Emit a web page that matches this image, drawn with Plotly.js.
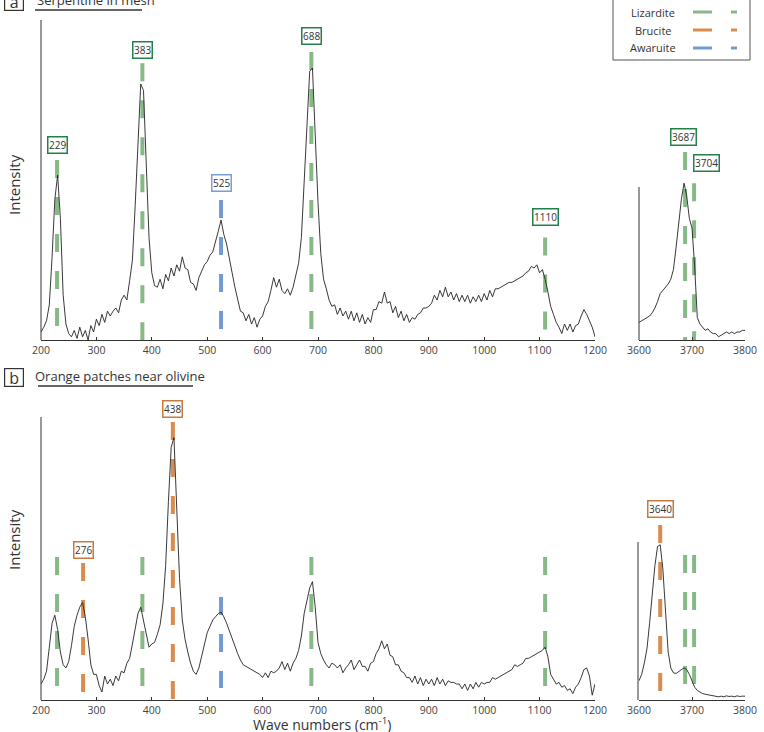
<!DOCTYPE html>
<html>
<head>
<meta charset="utf-8">
<script src="https://cdn.plot.ly/plotly-3.0.1.min.js"></script>
<style>
  html, body { margin: 0; padding: 0; background: #fff; }
  #chart { width: 764px; height: 732px; }
</style>
</head>
<body>
<div id="chart"></div>
<script>
// ---- Raman spectra: lattice region (200-1200 cm-1) ----
const waveMain = [
  200,205,210,215,220,225,230,235,240,245,250,255,260,265,270,275,280,285,290,295,
  300,305,310,315,320,325,330,335,340,345,350,355,360,365,370,375,380,385,390,395,
  400,405,410,415,420,425,430,435,440,445,450,455,460,465,470,475,480,485,490,495,
  500,505,510,515,520,525,530,535,540,545,550,555,560,565,570,575,580,585,590,595,
  600,605,610,615,620,625,630,635,640,645,650,655,660,665,670,675,680,685,690,695,
  700,705,710,715,720,725,730,735,740,745,750,755,760,765,770,775,780,785,790,795,
  800,805,810,815,820,825,830,835,840,845,850,855,860,865,870,875,880,885,890,895,
  900,905,910,915,920,925,930,935,940,945,950,955,960,965,970,975,980,985,990,995,
  1000,1005,1010,1015,1020,1025,1030,1035,1040,1045,1050,1055,1060,1065,1070,1075,1080,1085,1090,1095,
  1100,1105,1110,1115,1120,1125,1130,1135,1140,1145,1150,1155,1160,1165,1170,1175,1180,1185,1190,1195,
  1200
];

// (a) serpentine in mesh
const serpentineMesh = [
  2.5,4,6,11,26,44,51.5,38,14,5, 2,1,3,0.5,4,1,3,0,4.5,2.5,
  6.5,4.5,8,5.5,9,7.5,9,10,8.5,12.5, 14,12.5,18.5,25,42,63,80,78,53,32,
  21,17,16.5,19,16,20.5,18.5,22.5,20,23.5, 21.5,26,22.5,22,18,17.5,15.5,19.5,21.5,23.5,
  24.5,26.5,27.5,30.5,34,37.5,33,30,25,21, 16.5,13,9,8.5,6,8,5,7,4,6.5,
  7.5,10.5,12,15.5,19.5,16.5,19,15.5,14.5,16, 14,16.5,20,24,32,48,68,84,85,62,
  43,27,19,16,12.5,10.5,11,8,10,7.5, 9,6.5,9,6,8.5,5.5,8,5,7,5.5,
  9.5,9.5,12,11.5,15,11.5,12,8.5,10.5,7, 9,6,8,5.5,7,6.5,8,8.5,10,10,
  10.5,11.5,14,12.5,15.5,13.5,16.5,13.5,15,12.5, 14.5,12,14,12,14,11.5,13.5,12,14,12,
  14.5,12.5,15.5,13.5,16,16,16.5,17,17.5,18, 18,18.5,19,19.5,20,21,21.5,23,22.5,23.5,
  21,22,19,15,10.5,8,5.5,4,2,5, 3,5,2.5,4.5,5,7.5,9.5,8,6,4,
  1
];

// (b) orange patches near olivine
const orangePatches = [
  5,6.5,9,16,24,26.5,22,15,11,10, 12,17,23,26.5,29,30.5,26,19,11,8,
  8,4.5,2.5,7.5,5,6.5,4.5,7.5,6,9, 8.5,11.5,13,17.5,23,27,29,25,20,16.5,
  17.5,18,20.5,23.5,30,42,62,79,82,62, 38,25,19,15,11.5,9,8,10,13.5,17,
  21,23,25,26,27,27.5,26,24,21.5,19, 16.5,14.5,12.5,11,10.5,10,9.5,9,8.5,8,
  7,8.5,7,9,8.5,9,10,12,9.5,11.5, 9,11.5,13,15.5,20,27,31,35,37,29,
  18,14.5,12.5,11,10,11.5,11,10,11,8.5, 10,11,12.5,9.5,11,12.5,10.5,10.5,9,11.5,
  12,14.5,16,18.5,16,17.5,14,13.5,11,11, 9,8.5,7,7,5.5,7.5,5,7,4.5,6.5,
  5,6.5,4.5,7,5,6.5,4.5,6,5.5,5.5, 5,5,3.5,5,3,5,3.5,5.5,4,5.5,
  5,5.5,5.5,7,6.5,7,7.5,8,8.5,9, 9.5,11,10.5,11,11.5,13,13,13.5,14,14.5,
  15,15.5,16.5,13.5,8,6.5,5,5.5,4,4.5, 3,3.5,2,4,5,7,9.5,10,7.5,1.5,
  5
];

// ---- OH-stretching region (3600-3800 cm-1) ----
const waveOH = [
  3600,3605,3610,3615,3620,3625,3630,3635,3640,3645,
  3650,3655,3660,3665,3670,3675,3680,3685,3690,3695,
  3700,3705,3710,3715,3720,3725,3730,3735,3740,3745,
  3750,3755,3760,3765,3770,3775,3780,3785,3790,3795,
  3800
];
const serpentineMeshOH = [
  5.5,6,6.5,7,7.5,8.5,10,12,14.5,15.5,
  16.5,17.5,19,22,29,36,44,49,45,38,
  35,23,7,5,4,3,3.5,2.5,2,2,
  1,1.5,2,2.5,2,2.5,2,2.5,2.5,3,
  3
];
const orangePatchesOH = [
  6,8,11.5,16,24,33,42,48,48.5,41,
  26,15,10,8.5,8.3,9,9.5,10,9.5,8,
  6,4,3,2.5,2,1.8,1.6,1.5,1.3,1.2,
  1,1.2,1,1.3,1.1,1.2,1,1.3,1.1,1.2,
  1.2
];

// ---- reference band positions (cm-1) ----
const lizarditeBands = [229, 383, 688, 1110, 3687, 3704];
const bruciteBands = [276, 438, 3640];
const awaruiteBands = [525];

const mineralNames = ['Lizardite', 'Brucite', 'Awaruite'];
const panelLetters = ['a', 'b'];
const panelTitles = ['Serpentine in mesh', 'Orange patches near olivine'];
const ticksMain = [200, 300, 400, 500, 600, 700, 800, 900, 1000, 1100, 1200];
const ticksOH = [3600, 3700, 3800];
const labelledBands = [[229, 383, 525, 688, 1110, 3687, 3704], [276, 438, 3640]];

// ---- styling ----
const W = 764, H = 732;
const px = v => v / W;
const py = v => 1 - v / H;
const FONT = 'Open Sans, sans-serif';
const INK = '#333333';
const mineralStyle = {
  Lizardite: { dash: '#86b986', box: '#24804a', bands: lizarditeBands },
  Brucite:   { dash: '#d98c4e', box: '#c97a3c', bands: bruciteBands },
  Awaruite:  { dash: '#739ad2', box: '#7b9dd6', bands: awaruiteBands }
};

// vertical extent of each band marker [top, bottom, label height], per panel
const markerLayout = [
  { 229: [56.25, 4, 61], 383: [86.5, 0, 90.6], 525: [43.75, 3, 49], 688: [90, 2, 95],
    1110: [32, 3, 38.4], 3687: [58.75, 0, 63.4], 3704: [49, 0, 55.3],
    276: null, 438: null, 3640: null },
  { 229: [44.7, 4], 383: [44.7, 4], 688: [44.7, 4], 1110: [44.7, 4],
    3687: [45.3, 4], 3704: [45.3, 4],
    276: [42.8, 2.2, 46.9], 438: [86.9, 0, 91], 3640: [54.7, 2.5, 59.7],
    525: [32.2, 3.75] }
];
const labelShift = { 3704: 12, 3687: -2 };

const axisNames = [['x', 'y', 'x2', 'y2'], ['x3', 'y3', 'x4', 'y4']];
const spectra = [[serpentineMesh, serpentineMeshOH], [orangePatches, orangePatchesOH]];

const traces = [];
const annotations = [];
const shapes = [];

function note(o) {
  return Object.assign({ showarrow: false, xanchor: 'center', yanchor: 'middle', xref: 'paper', yref: 'paper' }, o);
}

panelLetters.forEach((letter, p) => {
  const [xm, ym, xi, yi] = axisNames[p];
  // band markers
  mineralNames.forEach(name => {
    const st = mineralStyle[name];
    st.bands.forEach(b => {
      const ext = markerLayout[p][b];
      if (!ext) return;
      const inset = b > 2000;
      traces.push({
        x: [b, b], y: [ext[0], ext[1]],
        xaxis: inset ? xi : xm, yaxis: inset ? yi : ym,
        mode: 'lines', hoverinfo: 'skip', showlegend: false,
        line: { color: st.dash, width: 4, dash: '18px,19px' }
      });
      if (labelledBands[p].includes(b)) {
        annotations.push(note({
          x: b, y: ext[2], xref: inset ? xi : xm, yref: inset ? yi : ym,
          xshift: labelShift[b] || 0,
          text: String(b),
          font: { family: FONT, size: 10, color: INK },
          bgcolor: '#ffffff', bordercolor: st.box, borderwidth: 1.5, borderpad: 0.5
        }));
      }
    });
  });
  // spectra
  traces.push({
    x: waveMain, y: spectra[p][0], xaxis: xm, yaxis: ym,
    mode: 'lines', line: { color: '#222222', width: 0.9 }, hoverinfo: 'skip', showlegend: false
  });
  traces.push({
    x: waveOH, y: spectra[p][1], xaxis: xi, yaxis: yi,
    mode: 'lines', line: { color: '#222222', width: 0.9 }, hoverinfo: 'skip', showlegend: false
  });
});

// panel frames: vertical axis lines
[[41, 20, 340], [639, 187, 340], [41, 417, 700], [638, 542, 700]].forEach(([x, y0, y1]) => {
  shapes.push({ type: 'line', xref: 'paper', yref: 'paper', x0: px(x), x1: px(x), y0: py(y0), y1: py(y1),
    line: { color: INK, width: 1 } });
});

// panel letters, titles and underlines
const panelHead = [
  { box: [13.5, 1.5], title: [35, 0], line: [35, 142, 10] },
  { box: [13.5, 377.5], title: [33, 376], line: [38, 193, 386] }
];
panelHead.forEach((h, p) => {
  annotations.push(note({
    x: px(h.box[0]), y: py(h.box[1]),
    text: panelLetters[p], font: { family: FONT, size: 16, color: INK },
    width: 16, height: 15, borderpad: 1, bordercolor: INK, borderwidth: 1.2, bgcolor: '#fff'
  }));
  annotations.push(note({
    x: px(h.title[0]), y: py(h.title[1]), xanchor: 'left',
    text: panelTitles[p], font: { family: FONT, size: 13, color: INK }
  }));
  shapes.push({ type: 'line', xref: 'paper', yref: 'paper',
    x0: px(h.line[0]), x1: px(h.line[1]), y0: py(h.line[2]), y1: py(h.line[2]),
    line: { color: INK, width: 1.5 } });
});

// axis titles
[185, 540].forEach(yc => {
  annotations.push(note({
    x: px(14), y: py(yc), textangle: -90,
    text: 'Intensity', font: { family: FONT, size: 15, color: INK }
  }));
});
annotations.push(note({
  x: px(322), y: py(723.5),
  text: 'Wave numbers (cm<sup>-1</sup>)', font: { family: FONT, size: 14, color: INK }
}));

// mineral key
shapes.push({ type: 'rect', xref: 'paper', yref: 'paper', x0: px(613), x1: px(750), y0: py(-3), y1: py(60),
  line: { color: '#555555', width: 1 }, fillcolor: 'rgba(0,0,0,0)' });
mineralNames.forEach((name, i) => {
  const yc = 12 + i * 18;
  annotations.push(note({
    x: px(653), y: py(yc),
    text: name, font: { family: FONT, size: 11, color: INK }
  }));
  [[693, 712], [731, 737]].forEach(([a, b]) => {
    shapes.push({ type: 'line', xref: 'paper', yref: 'paper', x0: px(a), x1: px(b), y0: py(yc), y1: py(yc),
      line: { color: mineralStyle[name].dash, width: 3 } });
  });
});

// axes
const xBase = {
  showline: true, linecolor: INK, linewidth: 1, ticks: 'inside', ticklen: 3, tickwidth: 1, tickcolor: INK,
  showgrid: false, zeroline: false, fixedrange: true,
  tickfont: { family: FONT, size: 10.5, color: '#444444' }
};
const yBase = { visible: false, showgrid: false, zeroline: false, fixedrange: true };
const domMain = [px(41), px(595)];
const domInset = [px(639), px(745)];
const domA = [py(340), py(20)];
const domB = [py(700), py(400)];

const layout = {
  width: W, height: H,
  margin: { l: 0, r: 0, t: 0, b: 0 },
  paper_bgcolor: '#ffffff', plot_bgcolor: 'rgba(0,0,0,0)',
  showlegend: false,
  xaxis:  Object.assign({}, xBase, { domain: domMain, range: [200, 1200], tickvals: ticksMain, anchor: 'y' }),
  yaxis:  Object.assign({}, yBase, { domain: domA, range: [0, 100], anchor: 'x' }),
  xaxis2: Object.assign({}, xBase, { domain: domInset, range: [3600, 3800], tickvals: ticksOH, anchor: 'y2' }),
  yaxis2: Object.assign({}, yBase, { domain: domA, range: [0, 100], anchor: 'x2' }),
  xaxis3: Object.assign({}, xBase, { domain: domMain, range: [200, 1200], tickvals: ticksMain, anchor: 'y3' }),
  yaxis3: Object.assign({}, yBase, { domain: domB, range: [0, 93.75], anchor: 'x3' }),
  xaxis4: Object.assign({}, xBase, { domain: domInset, range: [3600, 3800], tickvals: ticksOH, anchor: 'y4' }),
  yaxis4: Object.assign({}, yBase, { domain: domB, range: [0, 93.75], anchor: 'x4' }),
  annotations: annotations,
  shapes: shapes
};

Plotly.newPlot('chart', traces, layout, { staticPlot: true, displayModeBar: false });
</script>
</body>
</html>
